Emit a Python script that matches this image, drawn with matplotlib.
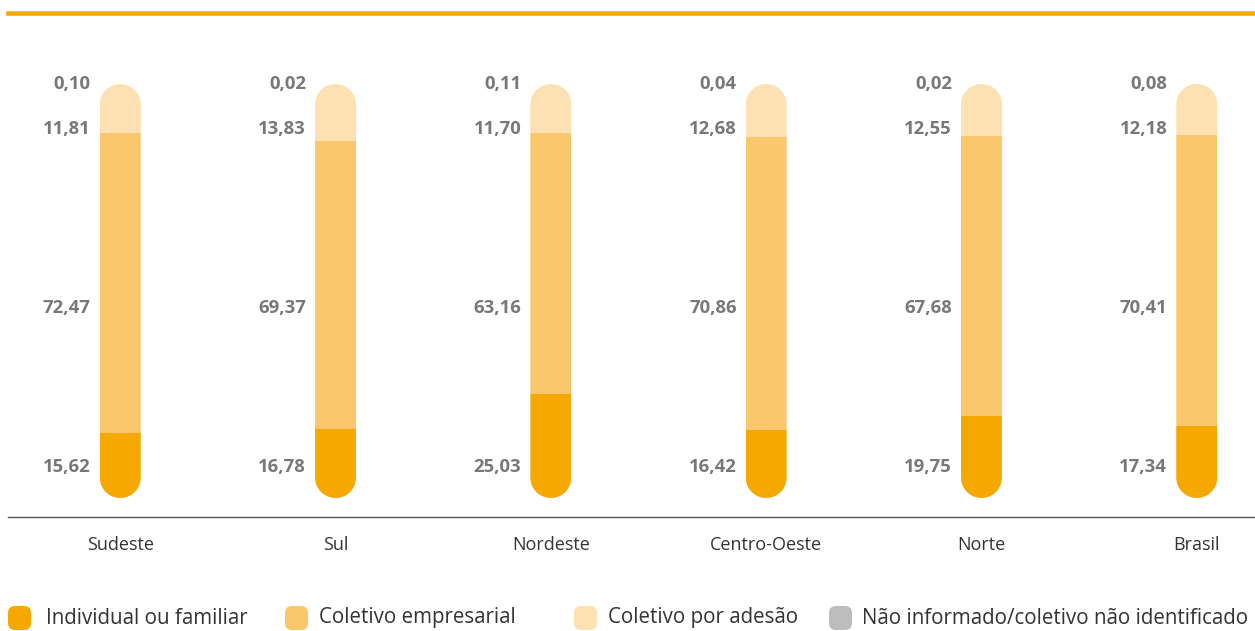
import matplotlib
matplotlib.use("Agg")
import numpy as np
import matplotlib.pyplot as plt
from matplotlib.patches import FancyBboxPatch, PathPatch
from matplotlib.path import Path
from matplotlib.lines import Line2D

plt.rcParams['font.family'] = ['Open Sans', 'DejaVu Sans']

regions = ["Sudeste", "Sul", "Nordeste", "Centro-Oeste", "Norte", "Brasil"]
individual = [15.62, 16.78, 25.03, 16.42, 19.75, 17.34]
empresarial = [72.47, 69.37, 63.16, 70.86, 67.68, 70.41]
adesao = [11.81, 13.83, 11.70, 12.68, 12.55, 12.18]
nao_inf = [0.10, 0.02, 0.11, 0.04, 0.02, 0.08]
legend_labels = ["Individual ou familiar", "Coletivo empresarial",
                 "Coletivo por adesão", "Não informado/coletivo não identificado"]

colors = ["#F5A800", "#FBC76C", "#FDE1B3", "#BDBDBD"]
label_color = "#787878"

W, H = 1255, 631
fig = plt.figure(figsize=(W / 100, H / 100), dpi=100)

ax_left_px, ax_right_px = 8, 1255
ax_bottom_px, ax_top_px = 517, 60
ax = fig.add_axes([ax_left_px / W, 1 - ax_bottom_px / H,
                   (ax_right_px - ax_left_px) / W, (ax_bottom_px - ax_top_px) / H])

px_per_unit_y = 414 / 100.0
ymin = -(517 - 498) / px_per_unit_y
ymax = 100 + (84 - 60) / px_per_unit_y
first_center_px, px_per_unit_x = 120.25, 215.3
xmin = (ax_left_px - first_center_px) / px_per_unit_x
xmax = (ax_right_px - first_center_px) / px_per_unit_x
ax.set_xlim(xmin, xmax)
ax.set_ylim(ymin, ymax)

bar_w = 41 / px_per_unit_x
aspect = px_per_unit_x / px_per_unit_y


def stadium(cx, w, y0, y1, asp, n=60):
    r = w / 2
    ry = r * asp
    t_top = np.linspace(0, np.pi, n)
    t_bot = np.linspace(np.pi, 2 * np.pi, n)
    xs = np.concatenate([cx + r * np.cos(t_top), cx + r * np.cos(t_bot)])
    ys = np.concatenate([y1 - ry + ry * np.sin(t_top), y0 + ry + ry * np.sin(t_bot)])
    verts = np.column_stack([xs, ys])
    verts = np.vstack([verts, verts[:1]])
    codes = [Path.MOVETO] + [Path.LINETO] * (len(verts) - 2) + [Path.CLOSEPOLY]
    return Path(verts, codes)


series = [individual, empresarial, adesao, nao_inf]


def fmt(v):
    return f"{v:.2f}".replace(".", ",")


for i in range(len(regions)):
    total = sum(s[i] for s in series)
    clip = PathPatch(stadium(i, bar_w, 0, total, aspect), transform=ax.transData,
                     facecolor="none", edgecolor="none")
    ax.add_patch(clip)
    bottom = 0
    for s, c in zip(series, colors):
        bars = ax.bar(i, s[i], width=bar_w, bottom=bottom, color=c, linewidth=0)
        for b in bars:
            b.set_clip_path(clip)
        bottom += s[i]

    lab_kw = dict(textcoords="offset pixels", ha="right", va="center",
                  fontsize=13.3, fontweight="bold", color=label_color)
    ax.annotate(fmt(nao_inf[i]), (i - bar_w / 2, 100), xytext=(-9, 0), **lab_kw)
    ax.annotate(fmt(adesao[i]), (i - bar_w / 2, 89.2), xytext=(-9, 0), **lab_kw)
    ax.annotate(fmt(empresarial[i]), (i - bar_w / 2, 45.9), xytext=(-9, 0), **lab_kw)
    ax.annotate(fmt(individual[i]), (i - bar_w / 2, 7.5), xytext=(-9, 0), **lab_kw)

ax.set_xticks(range(len(regions)))
ax.set_xticklabels(regions, fontsize=13, color="#333333")
ax.tick_params(axis="x", length=0, pad=14)
ax.set_yticks([])
for sp in ["top", "right", "left"]:
    ax.spines[sp].set_visible(False)
ax.spines["bottom"].set_color("#555555")
ax.spines["bottom"].set_linewidth(1.0)
ax.set_facecolor("none")

fig.add_artist(Line2D([8 / W, 1.0], [1 - 12.5 / H, 1 - 12.5 / H],
                      transform=fig.transFigure, color="#F5A800", linewidth=3.3))

leg_marker_x = [8, 285, 574, 829]
leg_text_x = [46, 319, 608, 862]
leg_y = 618
mw, mh = 23, 24
for mx, tx, c, lab in zip(leg_marker_x, leg_text_x, colors, legend_labels):
    p = FancyBboxPatch((mx / W, 1 - (leg_y + mh / 2) / H), mw / W, mh / H,
                       boxstyle=f"round,pad=0,rounding_size={7 / W}",
                       mutation_aspect=W / H,
                       transform=fig.transFigure, facecolor=c, edgecolor="none")
    fig.add_artist(p)
    fig.text(tx / W, 1 - leg_y / H, lab, ha="left", va="center",
             fontsize=14.8, color="#333333")

fig.savefig("out.png", dpi=100)
